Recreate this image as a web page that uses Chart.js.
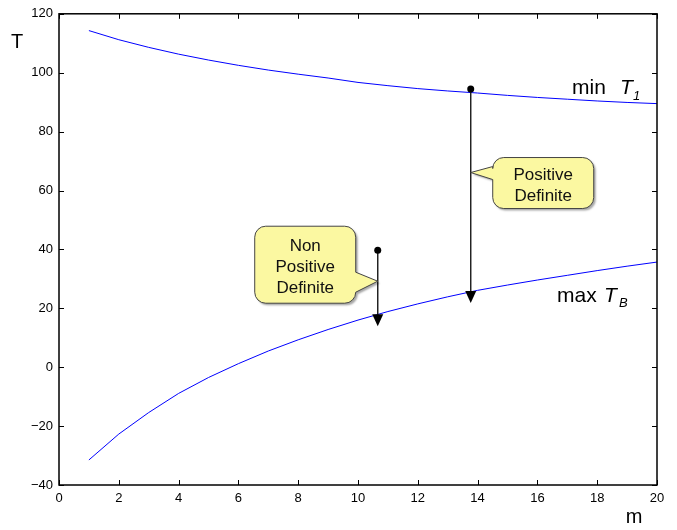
<!DOCTYPE html>
<html>
<head>
<meta charset="utf-8">
<script src="https://cdn.jsdelivr.net/npm/chart.js@4/dist/chart.umd.min.js"></script>
<style>
  body { margin: 0; background: #fff; }
  #wrap { width: 677px; height: 530px; }
</style>
</head>
<body>
<div id="wrap"><canvas id="tChart" width="677" height="530"></canvas></div>
<script>
// data
const mValues = [1, 2, 3, 4, 5, 6, 7, 8, 9, 10, 11, 12, 13, 14, 15, 16, 17, 18, 19, 20];
const minT1 = [114.3, 111.2, 108.6, 106.3, 104.3, 102.5, 100.9, 99.5, 98.2, 96.7,
               95.6, 94.6, 93.8, 93.1, 92.3, 91.6, 91.0, 90.4, 89.9, 89.5];
const maxTB = [-31.5, -22.7, -15.4, -8.9, -3.5, 1.2, 5.5, 9.3, 12.8, 16.0,
               18.9, 21.5, 23.9, 26.1, 27.9, 29.6, 31.2, 32.8, 34.3, 35.7];
const xTicks = [0, 2, 4, 6, 8, 10, 12, 14, 16, 18, 20];
const yTicks = [-40, -20, 0, 20, 40, 60, 80, 100, 120];

// arrows: m position, start T (dot), end T (arrow tip), callout tip T
const arrowM = [10.66, 13.77];
const arrowFrom = [39.7, 94.5];
const arrowTo = [13.9, 21.8];
const calloutTipT = [29.2, 66.1];
const calloutText = [['Non', 'Positive', 'Definite'], ['Positive', 'Definite']];

const FONT = '"Liberation Sans", Arial, Helvetica, sans-serif';

function calloutPath(ctx, tipX, tipY, dir, gap, w, h, topOff, b1, b2, r) {
    const bx = dir > 0 ? tipX + gap : tipX - gap - w;
    const by = tipY + topOff;
    ctx.beginPath();
    ctx.moveTo(bx + r, by);
    ctx.arcTo(bx + w, by, bx + w, by + r, r);
    if (dir < 0) {
        ctx.lineTo(bx + w, tipY + b1);
        ctx.lineTo(tipX, tipY);
        ctx.lineTo(bx + w, tipY + b2);
    }
    ctx.arcTo(bx + w, by + h, bx + w - r, by + h, r);
    ctx.arcTo(bx, by + h, bx, by + h - r, r);
    if (dir > 0) {
        ctx.lineTo(bx, tipY + b2);
        ctx.lineTo(tipX, tipY);
        ctx.lineTo(bx, tipY + b1);
    }
    ctx.arcTo(bx, by, bx + r, by, r);
    ctx.closePath();
    return { bx: bx, by: by };
}

const decor = {
    id: 'decor',
    afterDatasetsDraw(chart) {
        const ctx = chart.ctx;
        const xs = chart.scales.x, ys = chart.scales.y;
        const a = chart.chartArea;
        ctx.save();

        // axes box
        ctx.strokeStyle = '#000';
        ctx.lineWidth = 1.5;
        ctx.strokeRect(a.left, a.top, a.right - a.left, a.bottom - a.top);
        // inward ticks on all sides
        ctx.lineWidth = 1;
        ctx.beginPath();
        xTicks.forEach(v => {
            const px = Math.round(xs.getPixelForValue(v)) + 0.5;
            ctx.moveTo(px, a.bottom); ctx.lineTo(px, a.bottom - 5);
            ctx.moveTo(px, a.top); ctx.lineTo(px, a.top + 5);
        });
        yTicks.forEach(v => {
            const py = Math.round(ys.getPixelForValue(v)) + 0.5;
            ctx.moveTo(a.left, py); ctx.lineTo(a.left + 5, py);
            ctx.moveTo(a.right, py); ctx.lineTo(a.right - 5, py);
        });
        ctx.stroke();

        // arrows
        arrowM.forEach((m, i) => {
            const px = xs.getPixelForValue(m);
            const y0 = ys.getPixelForValue(arrowFrom[i]);
            const y1 = ys.getPixelForValue(arrowTo[i]);
            ctx.strokeStyle = '#222';
            ctx.lineWidth = 1.5;
            ctx.beginPath();
            ctx.moveTo(px, y0); ctx.lineTo(px, y1 - 10);
            ctx.stroke();
            ctx.fillStyle = '#000';
            ctx.beginPath();
            ctx.arc(px, y0, 3.5, 0, Math.PI * 2);
            ctx.fill();
            ctx.beginPath();
            ctx.moveTo(px - 5.5, y1 - 12);
            ctx.lineTo(px + 5.5, y1 - 12);
            ctx.lineTo(px, y1);
            ctx.closePath();
            ctx.fill();
        });

        // callouts
        const shapes = [
            { dir: -1, gap: 22, w: 101, h: 77, topOff: -55, b1: -9, b2: 11 },
            { dir: 1, gap: 22, w: 101, h: 51, topOff: -15, b1: -6, b2: 7 }
        ];
        shapes.forEach((s, i) => {
            const tipX = xs.getPixelForValue(arrowM[i]);
            const tipY = ys.getPixelForValue(calloutTipT[i]);
            ctx.save();
            ctx.shadowColor = 'rgba(0,0,0,0.35)';
            ctx.shadowOffsetX = 2;
            ctx.shadowOffsetY = 2;
            ctx.shadowBlur = 2;
            const b = calloutPath(ctx, tipX, tipY, s.dir, s.gap, s.w, s.h, s.topOff, s.b1, s.b2, 11);
            ctx.fillStyle = '#fbf8a1';
            ctx.fill();
            ctx.restore();
            calloutPath(ctx, tipX, tipY, s.dir, s.gap, s.w, s.h, s.topOff, s.b1, s.b2, 11);
            ctx.strokeStyle = '#444';
            ctx.lineWidth = 1;
            ctx.stroke();
            const lines = calloutText[i];
            ctx.fillStyle = '#111';
            ctx.font = '17px ' + FONT;
            ctx.textAlign = 'center';
            ctx.textBaseline = 'middle';
            const cy = b.by + s.h / 2 + 3;
            lines.forEach((t, k) => {
                ctx.fillText(t, b.bx + s.w / 2, cy + (k - (lines.length - 1) / 2) * 21);
            });
        });

        // curve labels
        ctx.fillStyle = '#000';
        ctx.textAlign = 'left';
        ctx.textBaseline = 'alphabetic';
        ctx.font = '21px ' + FONT;
        ctx.fillText('min', 572, 94);
        ctx.fillText('max', 557, 302);
        ctx.font = 'italic 21px ' + FONT;
        ctx.fillText('T', 620, 94);
        ctx.fillText('T', 604, 302);
        ctx.font = 'italic 13px ' + FONT;
        ctx.fillText('1', 633, 100);
        ctx.fillText('B', 619, 307);

        // axis labels
        ctx.font = '20px ' + FONT;
        ctx.textAlign = 'center';
        ctx.textBaseline = 'middle';
        ctx.fillText('T', 17, 42);
        ctx.fillText('m', 634, 517);
        ctx.restore();
    }
};

new Chart(document.getElementById('tChart').getContext('2d'), {
    type: 'line',
    data: {
        datasets: [{
            label: 'min T1',
            data: mValues.map((m, i) => ({ x: m, y: minT1[i] })),
            borderColor: '#0000ff',
            borderWidth: 1,
            pointRadius: 0,
            tension: 0
        }, {
            label: 'max TB',
            data: mValues.map((m, i) => ({ x: m, y: maxTB[i] })),
            borderColor: '#0000ff',
            borderWidth: 1,
            pointRadius: 0,
            tension: 0
        }]
    },
    options: {
        responsive: false,
        animation: false,
        layout: { padding: { top: 13, right: 20, left: 0, bottom: 0 } },
        plugins: {
            legend: { display: false },
            tooltip: { enabled: false }
        },
        scales: {
            x: {
                type: 'linear',
                min: 0,
                max: 20,
                afterBuildTicks: s => { s.ticks = xTicks.map(v => ({ value: v })); },
                afterFit: s => { s.height = 45; },
                grid: { display: false, drawTicks: false },
                border: { display: false },
                ticks: {
                    padding: 6,
                    color: '#000',
                    maxRotation: 0,
                    font: { family: FONT, size: 13 }
                }
            },
            y: {
                min: -40,
                max: 120,
                afterBuildTicks: s => { s.ticks = yTicks.map(v => ({ value: v })); },
                afterFit: s => { s.width = 59; },
                grid: { display: false, drawTicks: false },
                border: { display: false },
                ticks: {
                    padding: 6,
                    color: '#000',
                    font: { family: FONT, size: 13 },
                    callback: v => String(v).replace('-', '\u2212')
                }
            }
        }
    },
    plugins: [decor]
});
</script>
</body>
</html>
